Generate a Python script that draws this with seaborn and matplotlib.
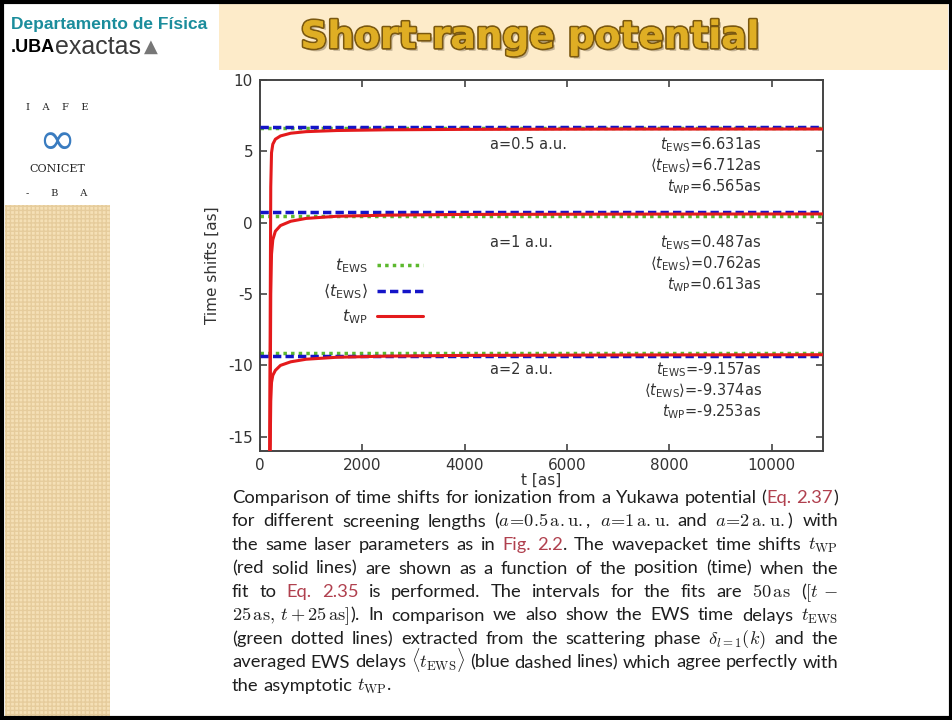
import matplotlib
matplotlib.use("Agg")
import matplotlib.pyplot as plt
import matplotlib.patheffects as pe
from matplotlib.lines import Line2D
from matplotlib.patches import Rectangle
import seaborn as sns

# ------------------------------------------------------------
# data
# ------------------------------------------------------------
screening = ["a=0.5 a.u.", "a=1 a.u.", "a=2 a.u."]
t_ews = [6.631, 0.487, -9.157]          # EWS time delays
t_ews_avg = [6.712, 0.762, -9.374]      # averaged EWS delays
t_wp = [6.565, 0.613, -9.253]           # asymptotic wavepacket shifts

# wavepacket time shift vs. fit position (red curves)
t_fit = [190, 200, 210, 225, 250, 300, 400, 600, 900, 1500, 2500, 4000, 7000, 11000]
wp_a05 = [-17.0, -6.0, 2.5, 4.9, 5.5, 5.85, 6.08, 6.27, 6.38, 6.46, 6.51, 6.54, 6.56, 6.565]
wp_a1 = [-17.0, -12.0, -5.0, -2.2, -1.2, -0.6, -0.2, 0.1, 0.3, 0.45, 0.53, 0.58, 0.60, 0.613]
wp_a2 = [-17.0, -15.5, -12.5, -11.2, -10.7, -10.35, -10.0, -9.75, -9.57, -9.43, -9.35, -9.30, -9.27, -9.253]
wp_curves = [wp_a05, wp_a1, wp_a2]

x_ticks = [0, 2000, 4000, 6000, 8000, 10000]
y_ticks = [-15, -10, -5, 0, 5, 10]

# caption lines; text between # is the red cross-reference colour
caption = [
    r"Comparison of time shifts for ionization from a Yukawa potential (#Eq.# #2.37#)",
    r"for different screening lengths ($a\!=\!0.5\,\mathrm{a.u.}$, $a\!=\!1\,\mathrm{a.u.}$ and $a\!=\!2\,\mathrm{a.u.}$) with",
    r"the same laser parameters as in #Fig.# #2.2#. The wavepacket time shifts $t_{\mathrm{WP}}$",
    r"(red solid lines) are shown as a function of the position (time) when the",
    r"fit to #Eq.# #2.35# is performed.  The intervals for the fits are $50\,\mathrm{as}$ ($[t\,-$",
    r"$25\,\mathrm{as},\,t+25\,\mathrm{as}]$). In comparison we also show the EWS time delays $t_{\mathrm{EWS}}$",
    r"(green dotted lines) extracted from the scattering phase $\delta_{l=1}(k)$ and the",
    r"averaged EWS delays $\langle{}t_{\mathrm{EWS}}\rangle$ (blue dashed lines) which agree perfectly with",
    r"the asymptotic $t_{\mathrm{WP}}$.",
]

# ------------------------------------------------------------
# figure
# ------------------------------------------------------------
sns.set_theme(style="ticks")
plt.rcParams["font.family"] = ["DejaVu Sans"]
plt.rcParams["mathtext.fontset"] = "dejavusans"
plt.rcParams["axes.unicode_minus"] = False

W, H = 953, 720
fig = plt.figure(figsize=(W / 100, H / 100), dpi=100)
fig.patch.set_facecolor("white")
renderer = fig.canvas.get_renderer()


def fx(px):
    return px / W


def fy(py):
    return 1 - py / H


GREEN = "#5cb82e"
BLUE = "#1414c8"
RED = "#e41a1c"
GREY = "#333333"

# slide decoration ------------------------------------------------
fig.patches.append(Rectangle((fx(219), fy(70)), fx(948 - 219), 66 / H,
                             transform=fig.transFigure, facecolor="#fdebc9",
                             edgecolor="none", zorder=0))
fig.patches.append(Rectangle((fx(5), 0), fx(105), fy(205),
                             transform=fig.transFigure, facecolor="#f5e0b6",
                             edgecolor="#e6cc9c", hatch="++++", lw=0, zorder=0))
fig.patches.append(Rectangle((0.002, 0.003), 0.996, 0.994,
                             transform=fig.transFigure, facecolor="none",
                             edgecolor="black", lw=3, zorder=5))

fig.text(fx(530), fy(38), "Short-range potential", ha="center", va="center",
         fontsize=27, fontweight="bold", color="#dfae24",
         path_effects=[pe.withSimplePatchShadow(offset=(2, -2), shadow_rgbFace="#9a8a70", alpha=0.6),
                       pe.withStroke(linewidth=2.5, foreground="#7a5810"),
                       pe.Normal()])

# university logo text
fig.text(fx(11), fy(24), "Departamento de Física", ha="left", va="center",
         fontsize=12.5, fontweight="bold", family="Liberation Sans", color="#1b8d9c")
uba = fig.text(fx(11), fy(48), ".UBA", ha="left", va="center", fontsize=13,
               fontweight="bold", family="Liberation Sans", color="black")
uba_w = uba.get_window_extent(renderer).width
exa = fig.text(fx(11 + uba_w), fy(47), "exactas", ha="left", va="center", fontsize=18,
               family="Liberation Sans", color="#3a3a3a")
exa_w = exa.get_window_extent(renderer).width
fig.text(fx(14 + uba_w + exa_w), fy(47), "▲", ha="left", va="center", fontsize=13,
         color="#777777")

fig.text(fx(57), fy(107), "I    A    F    E", ha="center", va="center",
         fontsize=7, family="DejaVu Serif", color="#222222")
fig.text(fx(57), fy(141), "∞", ha="center", va="center", fontsize=32,
         color="#3a7cc0")
fig.text(fx(57), fy(169), "CONICET", ha="center", va="center",
         fontsize=8, family="DejaVu Serif", color="#222222")
fig.text(fx(57), fy(193), "-       B       A", ha="center", va="center",
         fontsize=7, family="DejaVu Serif", color="#222222")

# chart -------------------------------------------------------------
ax = fig.add_axes([fx(260), fy(451), fx(563), 371 / H])
ax.set_facecolor("white")

for i in range(len(screening)):
    ax.axhline(t_ews[i], color=GREEN, lw=2.5, ls=(0, (1, 1.2)), zorder=2)
    ax.axhline(t_ews_avg[i], color=BLUE, lw=2.5, ls=(0, (2.4, 1.2)), zorder=3)
    sns.lineplot(x=t_fit, y=wp_curves[i], color=RED, lw=2.2, ax=ax, zorder=4)

ax.set_xlim(0, 11000)
ax.set_ylim(-16, 10)
ax.set_xticks(x_ticks)
ax.set_yticks(y_ticks)
ax.tick_params(direction="in", top=True, right=True, length=5, width=1.2,
               labelsize=11, labelcolor=GREY, color="#444444", pad=5)
for sp in ax.spines.values():
    sp.set_visible(True)
    sp.set_color("#444444")
    sp.set_linewidth(1.4)
ax.set_xlabel("t [as]", fontsize=11, color=GREY, labelpad=0)
ax.set_ylabel("Time shifts [as]", fontsize=11, color=GREY, labelpad=6)

# annotations per screening length
block_y = [5.45, -1.41, -10.31]
row_step = 1.45
for i in range(len(screening)):
    y0 = block_y[i]
    ax.text(4500, y0, screening[i], ha="left", va="center", fontsize=10.5, color=GREY)
    ax.text(9800, y0, r"$t_{\mathrm{EWS}}$=%.3fas" % t_ews[i], ha="right",
            va="center", fontsize=10.5, color=GREY)
    ax.text(9800, y0 - row_step, r"$\langle t_{\mathrm{EWS}}\rangle$=%.3fas" % t_ews_avg[i],
            ha="right", va="center", fontsize=10.5, color=GREY)
    ax.text(9800, y0 - 2 * row_step, r"$t_{\mathrm{WP}}$=%.3fas" % t_wp[i], ha="right",
            va="center", fontsize=10.5, color=GREY)

handles = [Line2D([], [], color=GREEN, lw=2.5, ls=(0, (1, 1.2))),
           Line2D([], [], color=BLUE, lw=2.5, ls=(0, (2.4, 1.2))),
           Line2D([], [], color=RED, lw=2.2)]
labels = [r"$t_{\mathrm{EWS}}$", r"$\langle t_{\mathrm{EWS}}\rangle$", r"$t_{\mathrm{WP}}$"]
leg = ax.legend(handles, labels, markerfirst=False, frameon=False, loc="upper right",
                bbox_to_anchor=(0.304, 0.546), fontsize=11.5, handlelength=2.9,
                handletextpad=0.55, labelspacing=0.4, borderpad=0)
for t in leg.get_texts():
    t.set_color(GREY)

# caption, justified -------------------------------------------------
cap_left, cap_right = 232, 838
cap_base, cap_step = 503, 23.5
cap_size = 13.2
REF = "#b0404e"
for i, line in enumerate(caption):
    words = []
    for w in line.split(" "):
        if w == "":
            continue
        parts = w.split("#")
        segs = []
        for k, s in enumerate(parts):
            if s == "":
                continue
            t = fig.text(0, fy(cap_base + i * cap_step), s, ha="left", va="baseline",
                         fontsize=cap_size, family="Lato", math_fontfamily="cm",
                         color=REF if k % 2 == 1 else "#1e1e1e")
            segs.append((t, t.get_window_extent(renderer).width))
        words.append(segs)
    total = sum(wd for segs in words for _, wd in segs)
    if i == len(caption) - 1:
        gap = cap_size * 1.389 * 0.26
    else:
        gap = (cap_right - cap_left - total) / (len(words) - 1)
    x = cap_left
    for segs in words:
        for t, wd in segs:
            t.set_x(fx(x))
            x += wd
        x += gap

fig.savefig("out.png", dpi=100)
